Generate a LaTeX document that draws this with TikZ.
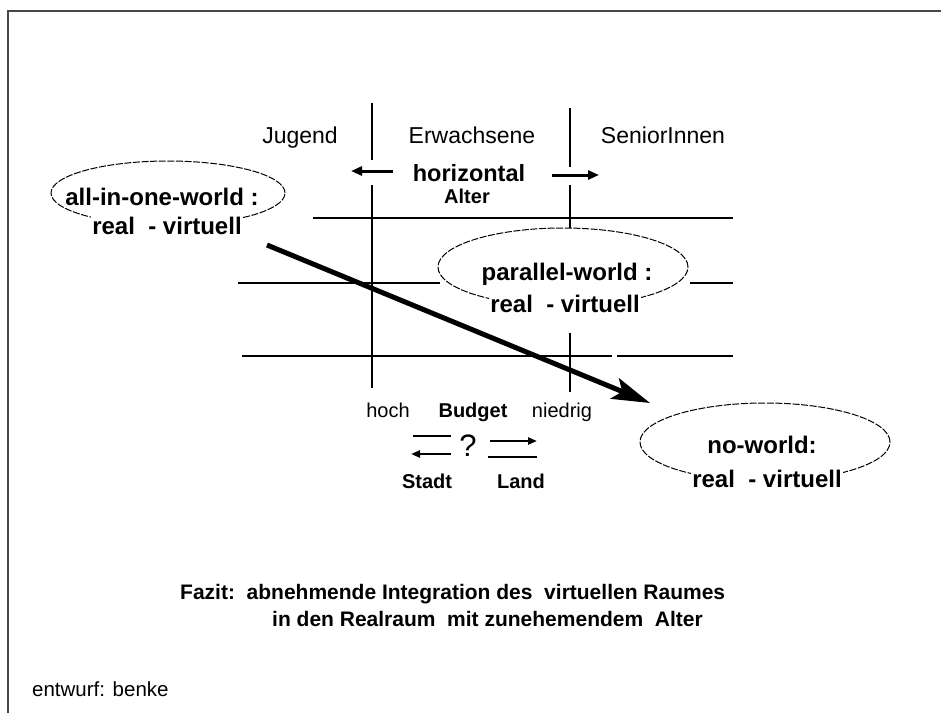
\documentclass[tikz,border=0pt]{standalone}
\usepackage{fontspec}
\setmainfont{Liberation Sans}
\usetikzlibrary{arrows.meta,shapes.geometric}
\begin{document}
\begin{tikzpicture}[x=1pt,y=-1pt,
  gridline/.style={line width=1.3pt},
  ell/.style={draw, ellipse, dash pattern=on 7pt off 1.6pt, line width=1pt, inner sep=0pt},
  lab/.style={inner sep=0pt, anchor=base, font=\fontsize{23}{27}\selectfont},
  slab/.style={inner sep=0pt, anchor=base, font=\fontsize{20}{24}\selectfont},
  blab/.style={inner sep=1.5pt, anchor=base, fill=white, font=\bfseries\fontsize{24}{28}\selectfont},
  sblab/.style={inner sep=0pt, anchor=base, font=\bfseries\fontsize{20}{24}\selectfont},
  fazit/.style={inner sep=0pt, anchor=base west, font=\bfseries\fontsize{21}{25}\selectfont},
  toparrow/.style={line width=3pt, -{Triangle[length=11pt,width=9pt]}},
  smallarrow/.style={line width=2.6pt, -{Triangle[length=9pt,width=7pt]}},
  smallline/.style={line width=2.6pt},
  mainarrow/.style={line width=5pt, -{Stealth[length=38pt,width=22pt,inset=8pt]}}
]
\useasboundingbox (0,0) rectangle (941,713);
% frame
\coordinate (fr1) at (941,11);
\coordinate (fr2) at (8,11);
\coordinate (fr3) at (8,713);
\draw[line width=2pt, black!72] (fr1) -- (fr2) -- (fr3);

% vertical grid lines
\coordinate (v1a) at (372,103); \coordinate (v1b) at (372,160);
\coordinate (v1c) at (372,185); \coordinate (v1d) at (372,388);
\coordinate (v2a) at (570,108); \coordinate (v2b) at (570,167);
\coordinate (v2c) at (570,185); \coordinate (v2d) at (570,228);
\coordinate (v2e) at (570,333); \coordinate (v2f) at (570,392);
\draw[gridline] (v1a) -- (v1b);
\draw[gridline] (v1c) -- (v1d);
\draw[gridline] (v2a) -- (v2b);
\draw[gridline] (v2c) -- (v2d);
\draw[gridline] (v2e) -- (v2f);

% horizontal grid lines
\coordinate (h1a) at (313,218); \coordinate (h1b) at (733,218);
\coordinate (h2a) at (238,283); \coordinate (h2b) at (440,283);
\coordinate (h2c) at (690,283); \coordinate (h2d) at (733,283);
\coordinate (h3a) at (242,356); \coordinate (h3b) at (612,356);
\coordinate (h3c) at (617,356); \coordinate (h3d) at (733,356);
\draw[gridline] (h1a) -- (h1b);
\draw[gridline] (h2a) -- (h2b);
\draw[gridline] (h2c) -- (h2d);
\draw[gridline] (h3a) -- (h3b);
\draw[gridline] (h3c) -- (h3d);

% column headings
\node[lab] (jugend) at (300,143) {Jugend};
\node[lab] (erw) at (472,143) {Erwachsene};
\node[lab] (sen) at (663,143) {SeniorInnen};

% horizontal arrows
\coordinate (la1) at (393,171); \coordinate (la2) at (351,171);
\coordinate (ra1) at (552,175); \coordinate (ra2) at (599,175);
\draw[toparrow] (la1) -- (la2);
\draw[toparrow] (ra1) -- (ra2);
\node[inner sep=0pt, anchor=base, font=\bfseries\fontsize{23.5}{28}\selectfont] (horiz) at (469,181) {horizontal};
\node[sblab] (alter) at (467,203) {Alter};

% ellipses
\node[ell, minimum width=234pt, minimum height=64pt] (e1) at (168,193) {};
\node[ell, minimum width=250pt, minimum height=78pt] (e2) at (563,267) {};
\node[ell, minimum width=250pt, minimum height=78pt] (e3) at (765,442) {};

\node[blab] (e1t1) at (162,205) {all-in-one-world :};
\node[blab] (e1t2) at (167,234) {real\ \ - virtuell};
\node[blab] (e2t1) at (567,280) {parallel-world :};
\node[blab] (e2t2) at (565,312) {real\ \ - virtuell};
\node[blab] (e3t1) at (762,453) {no-world:};
\node[blab] (e3t2) at (767,487) {real\ \ - virtuell};

% main arrow
\coordinate (ma1) at (267,245);
\coordinate (ma2) at (650,403);
\draw[mainarrow] (ma1) -- (ma2);

% budget
\node[slab] (hoch) at (388,417) {hoch};
\node[sblab] (budget) at (473,417) {Budget};
\node[slab] (niedrig) at (562,417) {niedrig};

\coordinate (s1a) at (413,436); \coordinate (s1b) at (451,436);
\coordinate (s2a) at (451,454); \coordinate (s2b) at (411,454);
\coordinate (l1a) at (490,441); \coordinate (l1b) at (537,441);
\coordinate (l2a) at (488,457); \coordinate (l2b) at (537,457);
\draw[smallline] (s1a) -- (s1b);
\draw[smallarrow] (s2a) -- (s2b);
\draw[smallarrow] (l1a) -- (l1b);
\draw[smallline] (l2a) -- (l2b);
\node[inner sep=0pt, anchor=base, font=\fontsize{31}{34}\selectfont] (q) at (468,456) {?};

\node[sblab] (stadt) at (427,488) {Stadt};
\node[sblab] (land) at (521,488) {Land};

% conclusion
\node[fazit] (faz1) at (180,599) {Fazit:\ \ abnehmende Integration des\ \ virtuellen Raumes};
\node[fazit] (faz2) at (272,626) {in den Realraum\ \ mit zunehemendem\ \ Alter};

\node[inner sep=0pt, anchor=base west, font=\fontsize{20.5}{24}\selectfont] (entw) at (32,696) {entwurf: benke};
\end{tikzpicture}
\end{document}
